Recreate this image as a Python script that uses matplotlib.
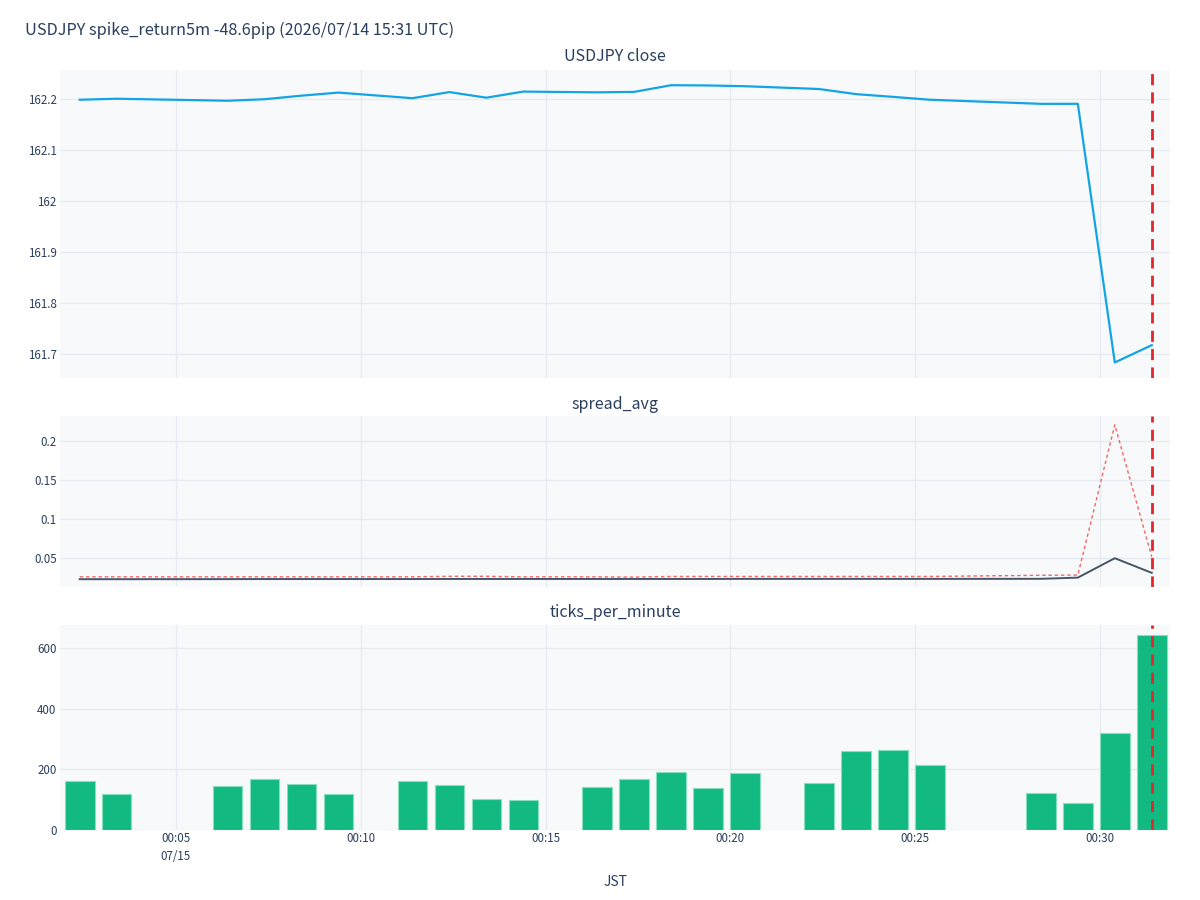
import numpy as np
import pandas as pd
import matplotlib
matplotlib.use("Agg")
import matplotlib.pyplot as plt
import matplotlib.dates as mdates

plt.rcParams["font.family"] = ["Noto Sans CJK JP", "DejaVu Sans"]

# minutes after 00:00 (JST, 2026-07-15) that have a row; each row is stamped at :24 s
minute = [2, 3, 6, 7, 8, 9, 11, 12, 13, 14, 16, 17, 18, 19, 20, 22, 23, 24, 25, 28, 29, 30, 31]
close = [162.199, 162.201, 162.197, 162.200, 162.207, 162.213, 162.202, 162.214, 162.203,
         162.215, 162.2135, 162.2144, 162.2275, 162.227, 162.2255, 162.220, 162.210, 162.2046,
         162.199, 162.191, 162.191, 161.684, 161.718]
spread_avg = [0.0235, 0.0235, 0.0236, 0.0237, 0.0237, 0.0237, 0.0237, 0.0238, 0.0238, 0.0238,
              0.0238, 0.0238, 0.0238, 0.0238, 0.0239, 0.0239, 0.0239, 0.0239, 0.0239, 0.0240,
              0.0255, 0.0503, 0.0316]
spread_max = [0.0265, 0.0265, 0.0265, 0.0265, 0.0265, 0.0265, 0.0265, 0.0272, 0.0272, 0.0265,
              0.0265, 0.0262, 0.0270, 0.0270, 0.0270, 0.0270, 0.0270, 0.0270, 0.0270, 0.0285,
              0.0288, 0.2205, 0.0520]
ticks = [163, 118, 145, 169, 151, 120, 163, 149, 102, 99, 143, 168, 192, 140, 189, 155,
         259, 263, 215, 123, 90, 320, 642]

title = "USDJPY spike_return5m -48.6pip (2026/07/14 15:31 UTC)"
base = pd.Timestamp("2026-07-15 00:00:24")
t = base + pd.to_timedelta(minute, unit="min")
event = t[-1]

TXT = "#2a3f5f"
GRID = "#e6eaf1"
BG = "#f8f9fa"
RED = "#e3262b"

fig = plt.figure(figsize=(12, 9), dpi=100)
L, W = 0.05, 0.925
ax1 = fig.add_axes([L, 0.58, W, 0.342])
ax2 = fig.add_axes([L, 0.348, W, 0.19], sharex=ax1)
ax3 = fig.add_axes([L, 0.0778, W, 0.2278], sharex=ax1)

ax1.plot(t, close, color="#13a4e6", lw=1.6)
ax2.plot(t, spread_max, color="#ef4444", lw=1.0, ls=(0, (2.5, 2)), alpha=0.8)
ax2.plot(t, spread_avg, color="#475569", lw=1.4)
ax3.bar(t, ticks, width=0.8 / 1440, color="#12b981", edgecolor="#86dfbd", lw=0.8, zorder=2)

ax1.set_ylim(161.6536, 162.2569)
ax1.set_yticks([161.7, 161.8, 161.9, 162.0, 162.1, 162.2])
ax1.set_yticklabels(["161.7", "161.8", "161.9", "162", "162.1", "162.2"])
ax2.set_ylim(0.0138, 0.232)
ax2.set_yticks([0.05, 0.1, 0.15, 0.2])
ax2.set_yticklabels(["0.05", "0.1", "0.15", "0.2"])
ax3.set_ylim(0, 676)
ax3.set_yticks([0, 200, 400, 600])

xl = pd.Timestamp("2026-07-15 00:01:52")
xr = pd.Timestamp("2026-07-15 00:31:53.6")
ax1.set_xlim(xl, xr)
xt = pd.to_datetime(["2026-07-15 00:%02d" % m for m in (5, 10, 15, 20, 25, 30)])
ax3.set_xticks(xt)
ax3.set_xticklabels(["00:05\n07/15", "00:10", "00:15", "00:20", "00:25", "00:30"],
                    linespacing=1.5, va="top")

for ax in (ax1, ax2, ax3):
    ax.set_facecolor(BG)
    for s in ax.spines.values():
        s.set_visible(False)
    ax.grid(True, color=GRID, lw=1)
    ax.set_axisbelow(True)
    ax.tick_params(length=0, labelsize=8.3, colors=TXT, pad=2.5)
    ax.axvline(event, color=RED, lw=2, ls=(0, (4, 2.6)), zorder=5)
ax3.tick_params(axis="x", pad=1.5)
for ax in (ax1, ax2):
    ax.tick_params(labelbottom=False)

fig.text(0.0208, 0.9667, title, fontsize=11.7, color=TXT, va="center", ha="left")
fig.text(0.5125, 0.9367, "USDJPY close", fontsize=11.5, color=TXT, ha="center", va="center")
fig.text(0.5125, 0.551, "spread_avg", fontsize=11.5, color=TXT, ha="center", va="center")
fig.text(0.5125, 0.319, "ticks_per_minute", fontsize=11.5, color=TXT, ha="center", va="center")
fig.text(0.5125, 0.02, "JST", fontsize=10, color=TXT, ha="center", va="center")

fig.savefig("out.png", dpi=100, facecolor="white")
